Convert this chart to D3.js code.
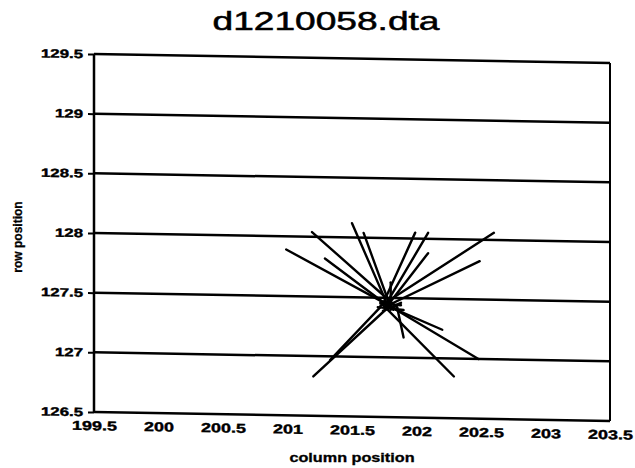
<!DOCTYPE html>
<html>
<head>
<meta charset="utf-8">
<script src="https://cdn.jsdelivr.net/npm/d3@7"></script>
<style>
  html, body { margin: 0; padding: 0; background: #fff; }
  svg { display: block; }
  text { font-family: "Liberation Sans", Arial, sans-serif; fill: #000; }
</style>
</head>
<body>
<svg id="chart" width="635" height="468"></svg>
<script>
// ---- data ----
const title = "d1210058.dta";
const xLabel = "column position";
const yLabel = "row position";
const xTicks = [199.5, 200, 200.5, 201, 201.5, 202, 202.5, 203, 203.5];
const xTickLabels = ["199.5", "200", "200.5", "201", "201.5", "202", "202.5", "203", "203.5"];
const yTicks = [126.5, 127, 127.5, 128, 128.5, 129, 129.5];
const yTickLabels = ["126.5", "127", "127.5", "128", "128.5", "129", "129.5"];

// segments: start (near centre) -> end
const segX1 = [201.85, 201.85, 201.82, 201.78, 201.80, 201.74, 201.76, 201.80, 201.72, 201.75, 201.80, 201.80, 201.72, 201.72, 201.78, 201.80, 201.85, 201.70, 201.72, 201.74];
const segY1 = [127.40, 127.42, 127.40, 127.43, 127.42, 127.45, 127.44, 127.47, 127.43, 127.42, 127.40, 127.44, 127.42, 127.46, 127.44, 127.42, 127.42, 127.42, 127.45, 127.39];
const segX2 = [200.99, 201.19, 201.29, 201.50, 201.59, 201.99, 202.09, 202.09, 202.60, 202.49, 201.80, 201.20, 201.33, 202.29, 202.48, 202.20, 201.90, 201.90, 201.88, 201.88];
const segY2 = [127.89, 128.04, 127.82, 128.12, 128.04, 128.05, 128.05, 127.88, 128.06, 127.82, 127.63, 126.83, 126.97, 126.85, 127.00, 127.24, 127.17, 127.40, 127.44, 127.46];

// ---- layout ----
const svg = d3.select("#chart");
const L = 94, R = 610, T = 54, B = 412;
const k = 9 / 516; // scan skew
const x = d3.scaleLinear().domain([199.5, 203.5]).range([L, R]);
const y = d3.scaleLinear().domain([126.5, 129.5]).range([B, T]);

function stretch(sel, f) {
  sel.each(function () {
    const len = this.getComputedTextLength();
    d3.select(this).attr("textLength", len * f).attr("lengthAdjust", "spacingAndGlyphs");
  });
}

const g = svg.append("g").attr("transform", `matrix(1,${k},0,1,0,${-k * L})`);

// gridlines (horizontal)
g.append("g").selectAll("line").data(yTicks).join("line")
  .attr("x1", L).attr("x2", R)
  .attr("y1", d => y(d)).attr("y2", d => y(d))
  .attr("stroke", "#000").attr("stroke-width", 2.5);

// box sides
g.append("line").attr("x1", L).attr("x2", L).attr("y1", T).attr("y2", B).attr("stroke", "#000").attr("stroke-width", 2.5);
g.append("line").attr("x1", R).attr("x2", R).attr("y1", T).attr("y2", B).attr("stroke", "#000").attr("stroke-width", 2);

// y axis
const yAxis = g.append("g").attr("transform", `translate(${L},0)`)
  .call(d3.axisLeft(y).tickValues(yTicks).tickSize(6).tickPadding(5)
    .tickFormat((d, i) => yTickLabels[i]));
yAxis.select(".domain").remove();
yAxis.selectAll(".tick line").attr("stroke", "#000").attr("stroke-width", 2);
yAxis.selectAll(".tick text").attr("font-size", 12).attr("font-weight", "bold")
  .attr("font-family", "Liberation Sans, Arial, sans-serif").attr("fill", "#000")
  .attr("stroke", "#000").attr("stroke-width", 0.4);
stretch(yAxis.selectAll(".tick text"), 1.4);

// x axis
const xAxis = g.append("g").attr("transform", `translate(0,${B})`)
  .call(d3.axisBottom(x).tickValues(xTicks).tickSize(0).tickPadding(9)
    .tickFormat((d, i) => xTickLabels[i]));
xAxis.select(".domain").remove();
xAxis.selectAll(".tick text").attr("font-size", 13).attr("font-weight", "bold")
  .attr("font-family", "Liberation Sans, Arial, sans-serif").attr("fill", "#000")
  .attr("stroke", "#000").attr("stroke-width", 0.4);
stretch(xAxis.selectAll(".tick text"), 1.38);

// star segments
g.append("g").selectAll("line").data(segX1.map((d, i) => i)).join("line")
  .attr("x1", i => x(segX1[i])).attr("y1", i => y(segY1[i]))
  .attr("x2", i => x(segX2[i])).attr("y2", i => y(segY2[i]))
  .attr("stroke", "#000").attr("stroke-width", 2.4).attr("stroke-linecap", "round");

// title
const t = svg.append("text").attr("x", 326).attr("y", 30).attr("text-anchor", "middle")
  .attr("font-size", 25).attr("stroke", "#000").attr("stroke-width", 0.5).text(title);
t.attr("textLength", 227).attr("lengthAdjust", "spacingAndGlyphs");

// axis titles
const xt = svg.append("text").attr("x", 352).attr("y", 462).attr("text-anchor", "middle")
  .attr("font-size", 12).attr("font-weight", "bold").attr("stroke", "#000").attr("stroke-width", 0.3).text(xLabel);
stretch(xt, 1.35);

svg.append("text").attr("transform", "translate(22,237) rotate(-90)")
  .attr("text-anchor", "middle").attr("font-size", 12).attr("font-weight", "bold")
  .attr("stroke", "#000").attr("stroke-width", 0.3).text(yLabel);
</script>
</body>
</html>
